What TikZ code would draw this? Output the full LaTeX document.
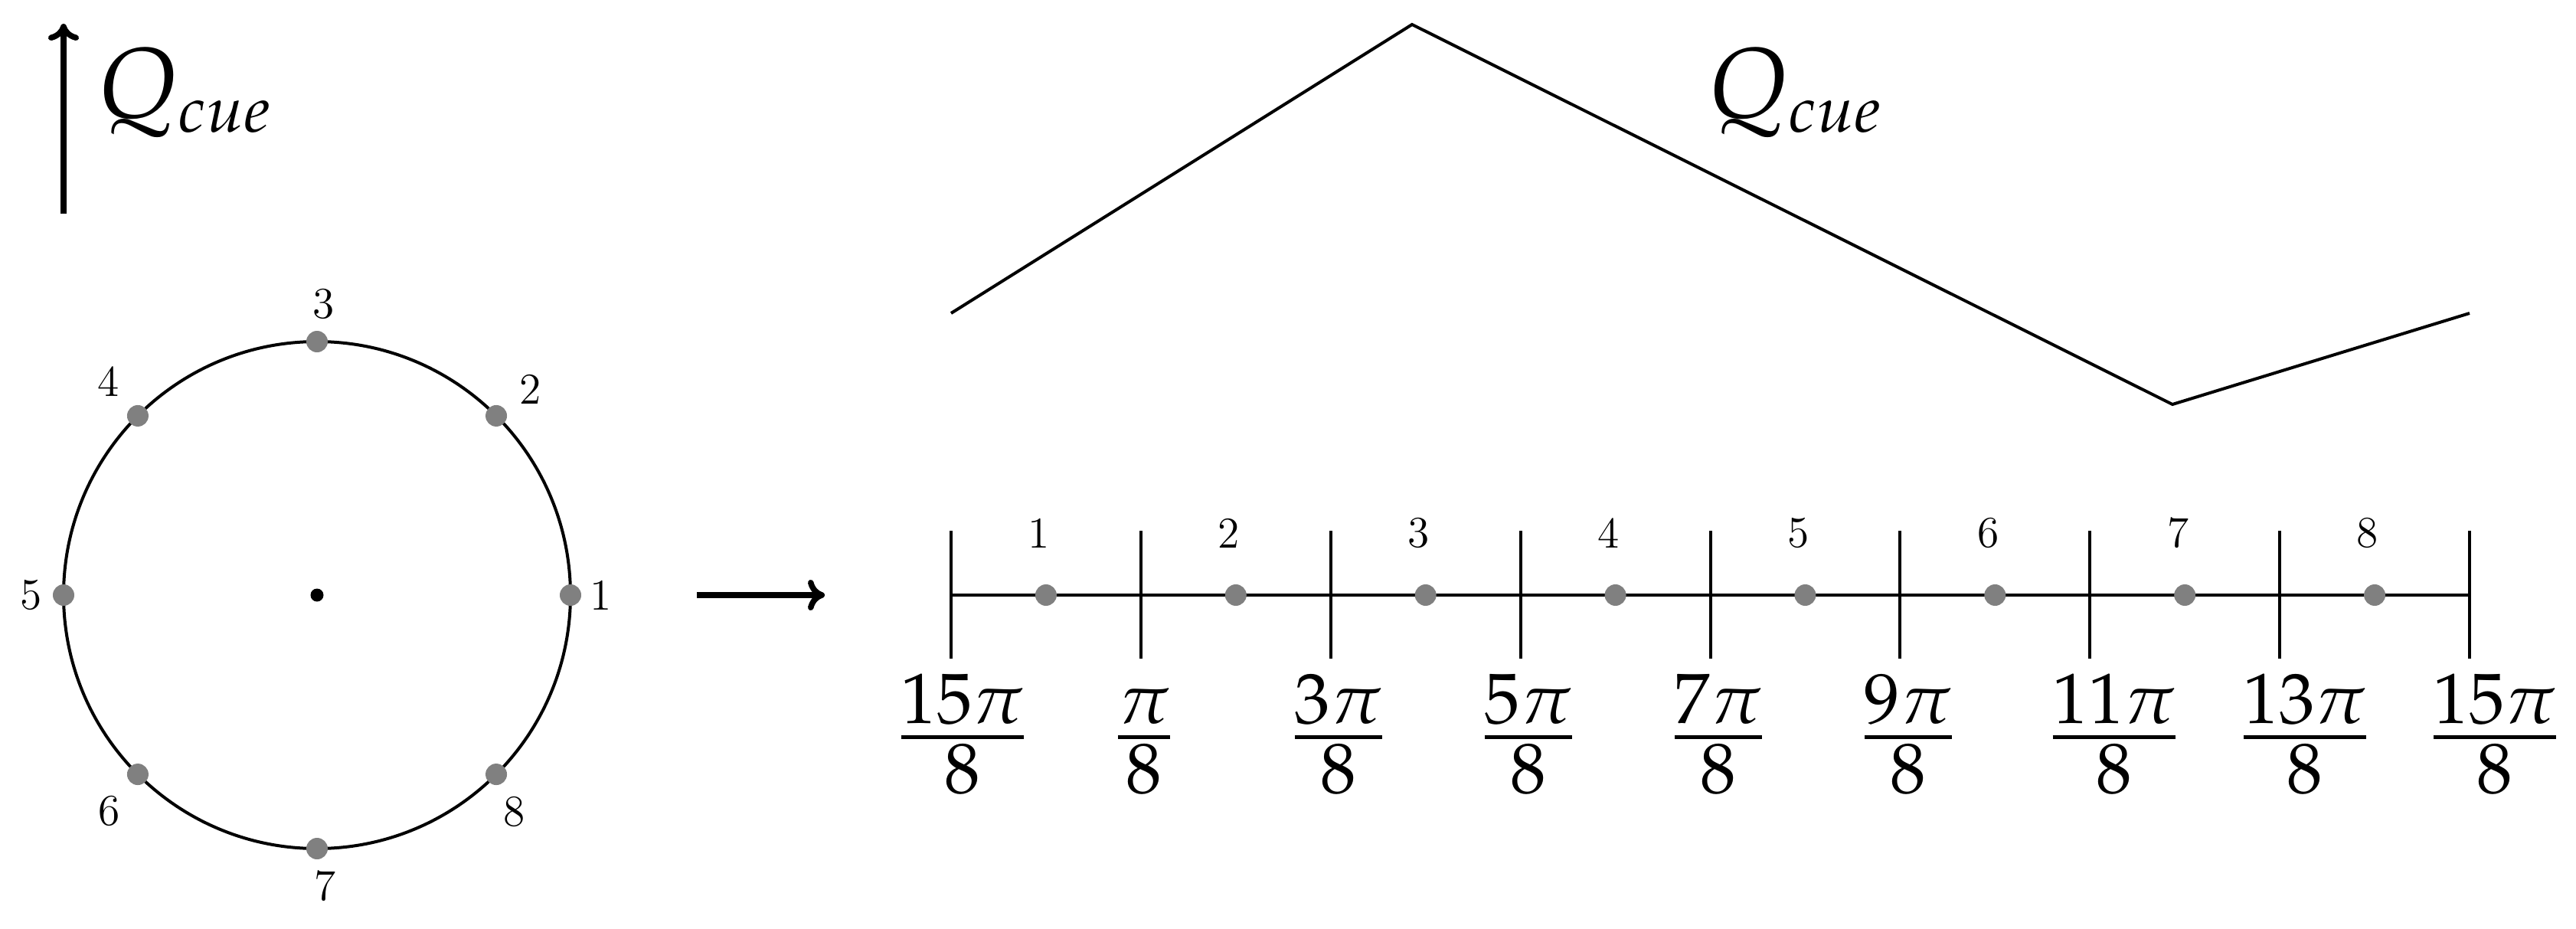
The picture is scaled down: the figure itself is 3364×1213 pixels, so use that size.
\documentclass[tikz,border=0pt]{standalone}
\usepackage{mathpazo}
\DeclareMathSizes{26}{26}{17}{13}
\usetikzlibrary{calc,arrows.meta}
\begin{document}
\begin{tikzpicture}[x=0.2pt,y=-0.2pt,
  thinline/.style={line width=0.8pt},
  bigarrow/.style={line width=1.5pt,-{To[length=4.4pt,width=8pt]}},
  gdot/.style={circle,fill=gray,inner sep=0pt,minimum size=5.6pt},
  bdot/.style={circle,fill=black,inner sep=0pt,minimum size=3.4pt},
  smalllab/.style={font=\fontsize{11.5}{13}\selectfont,inner sep=0pt},
  fraclab/.style={font=\fontsize{24.5}{30}\selectfont,inner sep=0pt,anchor=base},
  qlab/.style={font=\fontsize{26}{30}\selectfont,inner sep=0pt,anchor=base west}]
\useasboundingbox (0,0) rectangle (3364,1213);
% left part
\coordinate (upS) at (83,279);
\coordinate (upE) at (83,31);
\draw[bigarrow] (upS) -- (upE);
\node[qlab] (qleft) at (126,153) {$Q_{cue}$};
\coordinate (C) at (414,777);
\draw[thinline] (C) circle[radius=331];
\node[bdot] (center) at (C) {};
\foreach \i in {1,...,8}{
  \node[gdot] (d\i) at ($(C)+({-(\i-1)*45}:331)$) {};
}
\node[smalllab] (l1) at (785,777) {1};
\node[smalllab] (l2) at (693,508) {2};
\node[smalllab] (l3) at (423,397) {3};
\node[smalllab] (l4) at (142,498) {4};
\node[smalllab] (l5) at (41,777) {5};
\node[smalllab] (l6) at (143,1059) {6};
\node[smalllab] (l7) at (425,1157) {7};
\node[smalllab] (l8) at (672,1060) {8};
% mapping arrow
\coordinate (raS) at (910,777);
\coordinate (raE) at (1077,777);
\draw[bigarrow] (raS) -- (raE);
% number line
\coordinate (n0) at (1242,777);
\coordinate (n8) at (3225,777);
\draw[thinline] (n0) -- (n8);
\foreach \i in {0,...,8}{
  \coordinate (t\i) at ({1242+\i*247.875},777);
  \draw[thinline] ($(t\i)+(0,-84)$) -- ($(t\i)+(0,83)$);
}
\foreach \i/\fx/\lab in {0/1257/{15\pi},1/1494/{\pi},2/1748/{3\pi},3/1996/{5\pi},4/2244/{7\pi},5/2492/{9\pi},6/2761/{11\pi},7/3010/{13\pi},8/3258/{15\pi}}{
  \node[fraclab] (f\i) at (\fx,993) {$\frac{\lab}{8}$};
}
\foreach \i in {1,...,8}{
  \node[gdot] (m\i) at ({1242+(\i-0.5)*247.875},777) {};
  \node[smalllab] (ml\i) at ({1233+(\i-0.5)*247.875},696) {\i};
}
% zigzag
\coordinate (z0) at (1242,409);
\coordinate (z1) at (1844,32);
\coordinate (z2) at (2837,528);
\coordinate (z3) at (3225,409);
\draw[thinline,line join=miter] (z0) -- (z1) -- (z2) -- (z3);
\node[qlab] (qright) at (2229,153) {$Q_{cue}$};
\end{tikzpicture}
\end{document}
